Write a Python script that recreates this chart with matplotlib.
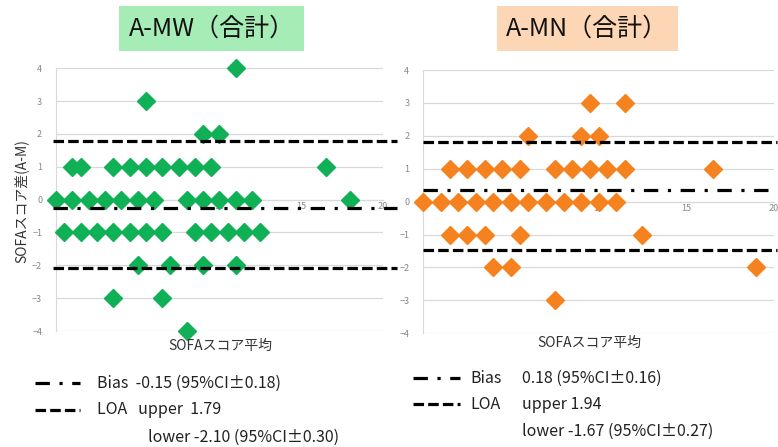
import matplotlib
matplotlib.use("Agg")
import matplotlib.pyplot as plt
from matplotlib.lines import Line2D

plt.rcParams['font.family'] = ['Noto Sans CJK JP', 'DejaVu Sans']

# A-MW (left panel): mean SOFA vs difference
mw_x = [11, 5.5, 9, 10,
        1, 1.5, 3.5, 4.5, 5.5, 6.5, 7.5, 8.5, 9.5, 16.5,
        0, 1, 2, 3, 4, 5, 6, 8, 9, 10, 11, 12, 18,
        0.5, 1.5, 2.5, 3.5, 4.5, 5.5, 6.5, 8.5, 9.5, 10.5, 11.5, 12.5,
        5, 7, 9, 11,
        3.5, 6.5,
        8]
mw_y = [4, 3, 2, 2,
        1, 1, 1, 1, 1, 1, 1, 1, 1, 1,
        0, 0, 0, 0, 0, 0, 0, 0, 0, 0, 0, 0, 0,
        -1, -1, -1, -1, -1, -1, -1, -1, -1, -1, -1, -1,
        -2, -2, -2, -2,
        -3, -3,
        -4]
mw_bias = -0.25
mw_loa = [1.79, -2.08]

# A-MN (right panel)
mn_x = [9.5, 11.5,
        6, 9, 10,
        1.5, 2.5, 3.5, 4.5, 5.5, 7.5, 8.5, 9.5, 10.5, 11.5, 16.5,
        0, 1, 2, 3, 4, 5, 6, 7, 8, 9, 10, 11,
        1.5, 2.5, 3.5, 5.5, 12.5,
        4, 5, 19,
        7.5]
mn_y = [3, 3,
        2, 2, 2,
        1, 1, 1, 1, 1, 1, 1, 1, 1, 1, 1,
        0, 0, 0, 0, 0, 0, 0, 0, 0, 0, 0, 0,
        -1, -1, -1, -1, -1,
        -2, -2, -2,
        -3]
mn_bias = 0.35
mn_loa = [1.82, -1.47]

titles = ["A-MW（合計）", "A-MN（合計）"]
title_colors = ["#a6ecb6", "#fdd6b5"]
marker_colors = ["#10b057", "#f5821f"]
xlabel = "SOFAスコア平均"
ylabel = "SOFAスコア差(A-M)"
legend_left = ["Bias  -0.15 (95%CI±0.18)", "LOA   upper  1.79", "lower -2.10 (95%CI±0.30)"]
legend_right = ["Bias", "0.18 (95%CI±0.16)", "LOA", "upper 1.94", "lower -1.67 (95%CI±0.27)"]

dash_loa = (0, (3.3, 1.3))
dash_bias = (0, (4.5, 3, 1, 3))

fig = plt.figure(figsize=(7.78, 4.47), dpi=100)
ax1 = fig.add_axes([0.072, 0.2595, 0.420, 0.5877])
ax2 = fig.add_axes([0.544, 0.2544, 0.4508, 0.589])

panels = [(ax1, mw_x, mw_y, mw_bias, mw_loa, (-0.2, 20.9)),
          (ax2, mn_x, mn_y, mn_bias, mn_loa, (0, 20.2))]

for i, (ax, xs, ys, bias, loa, span) in enumerate(panels):
    ax.set_xlim(0, 20)
    ax.set_ylim(-4, 4)
    ax.set_yticks(range(-4, 5))
    ax.set_xticks([0, 5, 10, 15, 20])
    ax.grid(axis='y', color='#d9d9d9', lw=0.9)
    ax.set_axisbelow(True)
    for s in ['top', 'right']:
        ax.spines[s].set_visible(False)
    ax.spines['left'].set_color('#d9d9d9')
    ax.spines['bottom'].set_position(('data', 0))
    ax.spines['bottom'].set_color('#d9d9d9')
    ax.tick_params(axis='both', length=0, labelsize=6.5, labelcolor='#888888')
    ax.tick_params(axis='y', pad=10)
    ax.tick_params(axis='x', pad=2)
    ax.plot(xs, ys, 'D', color=marker_colors[i], ms=9, mec=marker_colors[i], zorder=3, clip_on=False)
    for v in loa:
        ax.plot(span, [v, v], color='black', lw=2.3, linestyle=dash_loa, clip_on=False, zorder=4)
    ax.plot(span, [bias, bias], color='black', lw=2.3, linestyle=dash_bias, clip_on=False, zorder=4)

# titles with coloured boxes
fig.text(0.272, 0.937, titles[0], ha='center', va='center', fontsize=18, color='#111111',
         bbox=dict(boxstyle='square,pad=0.38', fc=title_colors[0], ec='none'))
fig.text(0.755, 0.937, titles[1], ha='center', va='center', fontsize=18, color='#111111',
         bbox=dict(boxstyle='square,pad=0.38', fc=title_colors[1], ec='none'))

# axis labels
fig.text(0.283, 0.226, xlabel, ha='center', va='center', fontsize=10, color='#333333')
fig.text(0.758, 0.232, xlabel, ha='center', va='center', fontsize=10, color='#333333')
fig.text(0.028, 0.55, ylabel, ha='center', va='center', rotation=90, fontsize=10, color='#333333')

# legend notes below the plots
fig.add_artist(Line2D([0.045, 0.103], [0.143, 0.143], color='black', lw=2.3, linestyle=dash_bias))
fig.add_artist(Line2D([0.045, 0.103], [0.083, 0.083], color='black', lw=2.3, linestyle=dash_loa))
fig.text(0.125, 0.143, legend_left[0], va='center', fontsize=11.5, color='#222222')
fig.text(0.125, 0.083, legend_left[1], va='center', fontsize=11.5, color='#222222')
fig.text(0.190, 0.022, legend_left[2], va='center', fontsize=11.5, color='#222222')

fig.add_artist(Line2D([0.531, 0.591], [0.154, 0.154], color='black', lw=2.3, linestyle=dash_bias))
fig.add_artist(Line2D([0.531, 0.591], [0.096, 0.096], color='black', lw=2.3, linestyle=dash_loa))
fig.text(0.604, 0.154, legend_right[0], va='center', fontsize=11.5, color='#222222')
fig.text(0.671, 0.154, legend_right[1], va='center', fontsize=11.5, color='#222222')
fig.text(0.604, 0.096, legend_right[2], va='center', fontsize=11.5, color='#222222')
fig.text(0.671, 0.096, legend_right[3], va='center', fontsize=11.5, color='#222222')
fig.text(0.671, 0.034, legend_right[4], va='center', fontsize=11.5, color='#222222')

fig.savefig("out.png", dpi=100)
